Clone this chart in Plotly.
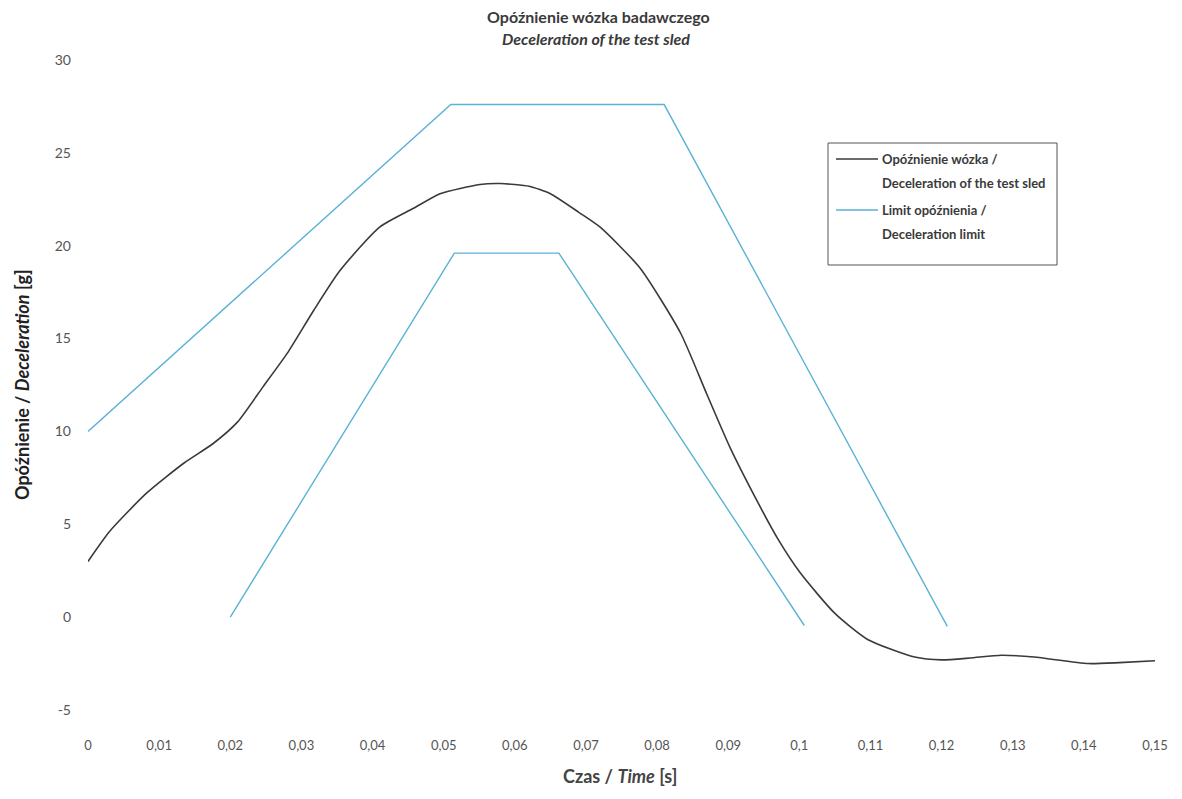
import plotly.graph_objects as go

# Measured test-sled deceleration (time [s], deceleration [g])
sled_time = [0.0, 0.003, 0.0083, 0.0135, 0.0176, 0.021, 0.0246, 0.028, 0.0317, 0.0354,
             0.041, 0.0457, 0.0495, 0.0551, 0.058, 0.062, 0.065, 0.069, 0.072, 0.0776,
             0.0833, 0.087, 0.0903, 0.094, 0.097, 0.1001, 0.105, 0.1096, 0.1162, 0.12,
             0.124, 0.1284, 0.133, 0.1406, 0.145, 0.15]
sled_decel = [3.0, 4.6, 6.7, 8.3, 9.35, 10.5, 12.4, 14.2, 16.5, 18.65,
              21.0, 22.0, 22.8, 23.3, 23.35, 23.2, 22.8, 21.8, 21.0, 18.8,
              15.3, 12.0, 9.1, 6.3, 4.2, 2.4, 0.2, -1.2, -2.15, -2.3,
              -2.2, -2.05, -2.15, -2.5, -2.45, -2.35]

# Deceleration corridor (upper and lower limit)
upper_time = [0.0, 0.051, 0.081, 0.1208]
upper_decel = [10.0, 27.6, 27.6, -0.5]
lower_time = [0.02, 0.0515, 0.0662, 0.1007]
lower_decel = [0.0, 19.6, 19.6, -0.45]

x_tick_vals = [i / 100 for i in range(16)]
x_tick_text = ["0", "0,01", "0,02", "0,03", "0,04", "0,05", "0,06", "0,07", "0,08",
               "0,09", "0,1", "0,11", "0,12", "0,13", "0,14", "0,15"]
y_tick_vals = [-5, 0, 5, 10, 15, 20, 25, 30]
y_tick_text = ["-5", "0", "5", "10", "15", "20", "25", "30"]

series_names = ["Opóźnienie wózka /", "Deceleration of the test sled"]
limit_names = ["Limit opóźnienia /", "Deceleration limit"]

FONT = "Lato"
SLED_COLOR = "#3a3a3a"
LIMIT_COLOR = "#5ab2d6"
limit_x = upper_time + [None] + lower_time
limit_y = upper_decel + [None] + lower_decel

fig = go.Figure()
fig.add_trace(go.Scatter(
    x=sled_time, y=sled_decel, mode="lines",
    line=dict(color=SLED_COLOR, width=1.6, shape="spline", smoothing=0.6),
    name=" / ".join(series_names), showlegend=False))
fig.add_trace(go.Scatter(
    x=limit_x, y=limit_y, mode="lines", line=dict(color=LIMIT_COLOR, width=1.4),
    name=" / ".join(limit_names), connectgaps=False, showlegend=False))

fig.update_layout(
    width=1182, height=799,
    margin=dict(l=80, r=35, t=52, b=97),
    paper_bgcolor="white", plot_bgcolor="white",
    font=dict(family=FONT, color="#444"),
    showlegend=False,
)
fig.update_xaxes(range=[0, 0.15], tickvals=x_tick_vals, ticktext=x_tick_text,
                 showgrid=False, zeroline=False, showline=False, ticks="",
                 tickfont=dict(family=FONT, size=13, color="#555"), ticklabelstandoff=26)
fig.update_yaxes(range=[-5, 30], tickvals=y_tick_vals, ticktext=y_tick_text,
                 showgrid=False, zeroline=False, showline=False, ticks="",
                 tickfont=dict(family=FONT, size=14, color="#555"), ticklabelstandoff=16)


def px(x):
    return (x - 88) / 1067


def py(y):
    return (710 - y) / 650


fig.add_annotation(text="<b>Opóźnienie wózka badawczego</b>", xref="paper", yref="paper",
                   x=px(598), y=py(17), showarrow=False, yanchor="middle",
                   font=dict(family=FONT, size=16, color="#3a3a3a"))
fig.add_annotation(text="<b><i>Deceleration of the test sled</i></b>", xref="paper", yref="paper",
                   x=px(596), y=py(39), showarrow=False, yanchor="middle",
                   font=dict(family=FONT, size=16, color="#3a3a3a"))
fig.add_annotation(text="<b>Czas / <i>Time</i> [s]</b>", xref="paper", yref="paper",
                   x=px(620), y=py(776), showarrow=False, yanchor="middle",
                   font=dict(family=FONT, size=18, color="#444"))
fig.add_annotation(text="<b>Opóźnienie / <i>Deceleration</i> [g]</b>", xref="paper", yref="paper",
                   x=px(22), y=py(385), showarrow=False, textangle=-90,
                   xanchor="center", yanchor="middle",
                   font=dict(family=FONT, size=18, color="#222"))

# Legend box drawn by hand so that the line spacing matches the original
fig.add_shape(type="rect", xref="paper", yref="paper",
              x0=px(828), x1=px(1057), y0=py(265), y1=py(143),
              line=dict(color="#555", width=1), fillcolor="white", layer="above")
legend_rows = [(series_names, SLED_COLOR, 159), (limit_names, LIMIT_COLOR, 210)]
for names, color, ytop in legend_rows:
    fig.add_shape(type="line", xref="paper", yref="paper",
                  x0=px(836), x1=px(878), y0=py(ytop), y1=py(ytop),
                  line=dict(color=color, width=1.6), layer="above")
    for k, line_text in enumerate(names):
        fig.add_annotation(text="<b>" + line_text + "</b>", xref="paper", yref="paper",
                           x=px(880), y=py(ytop + 24 * k), showarrow=False,
                           xanchor="left", yanchor="middle",
                           font=dict(family=FONT, size=13, color="#3a3a3a"))

fig.write_html("out.html")
